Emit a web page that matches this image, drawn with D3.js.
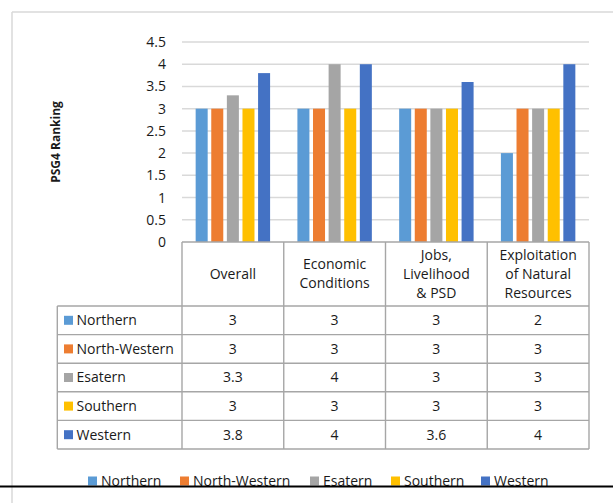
<!DOCTYPE html>
<html>
<head>
<meta charset="utf-8">
<script src="https://cdn.jsdelivr.net/npm/d3@7"></script>
<style>
  html, body { margin: 0; padding: 0; background: #fff; }
  svg { display: block; font-family: "Open Sans", sans-serif; }
</style>
</head>
<body>
<svg id="chart" width="613" height="503"></svg>
<script>
// Categories along the x axis (header lines split on "\n")
const categories = ["Overall", "Economic\nConditions", "Jobs,\nLivelihood\n& PSD", "Exploitation\nof Natural\nResources"];
// Regions (series)
const regions = ["Northern", "North-Western", "Esatern", "Southern", "Western"];
// PSG4 ranking per region, one value per category
const northern     = [3, 3, 3, 2];
const northWestern = [3, 3, 3, 3];
const esatern      = [3.3, 4, 3, 3];
const southern     = [3, 3, 3, 3];
const western      = [3.8, 4, 3.6, 4];
const seriesValues = [northern, northWestern, esatern, southern, western];
const yTicks = [0, 0.5, 1, 1.5, 2, 2.5, 3, 3.5, 4, 4.5];
const colors = ["#5B9BD5", "#ED7D31", "#A5A5A5", "#FFC000", "#4472C4"];

const svg = d3.select("#chart");
const fontSize = 14;
const textColor = "#1a1a1a";
const tableStroke = "#a6a6a6";

// Outer chart frame
svg.append("line").attr("x1", 12).attr("x2", 613).attr("y1", 12).attr("y2", 12)
  .attr("stroke", "#d9d9d9").attr("stroke-width", 1.5);
svg.append("line").attr("x1", 12).attr("x2", 12).attr("y1", 12).attr("y2", 503)
  .attr("stroke", "#d9d9d9").attr("stroke-width", 1.5);

const plotLeft = 182, plotRight = 589;
const y = d3.scaleLinear().domain([0, 4.5]).range([242, 42]);
const x = d3.scaleBand().domain(categories).range([plotLeft, plotRight]).padding(0);
const xs = d3.scaleBand().domain(regions).range([0, x.bandwidth()])
  .paddingInner(0.23).paddingOuter(0.875);

// Gridlines
svg.append("g").selectAll("line").data(yTicks.filter(d => d > 0)).join("line")
  .attr("x1", plotLeft).attr("x2", plotRight)
  .attr("y1", d => y(d)).attr("y2", d => y(d))
  .attr("stroke", "#d9d9d9").attr("stroke-width", 1.5);

// Y axis tick labels
const yAxis = d3.axisLeft(y).tickValues(yTicks).tickSize(0).tickPadding(0)
  .tickFormat(d => String(d));
svg.append("g").attr("transform", "translate(166,0)").call(yAxis)
  .call(g => g.select(".domain").remove())
  .call(g => g.selectAll("text").attr("font-size", fontSize).attr("fill", textColor)
    .attr("font-family", "'Open Sans', sans-serif"));

// Y axis title
svg.append("text")
  .attr("transform", "translate(60,142) rotate(-90)")
  .attr("text-anchor", "middle")
  .attr("font-size", 12).attr("font-weight", "bold").attr("fill", textColor)
  .text("PSG4 Ranking");

// Bars
const groups = svg.append("g").selectAll("g").data(categories).join("g")
  .attr("transform", d => `translate(${x(d)},0)`);
groups.selectAll("rect")
  .data((c, ci) => regions.map((r, ri) => ({ r, ri, v: seriesValues[ri][ci] })))
  .join("rect")
  .attr("x", d => xs(d.r))
  .attr("width", xs.bandwidth())
  .attr("y", d => y(d.v))
  .attr("height", d => y(0) - y(d.v))
  .attr("fill", d => colors[d.ri]);

// Data table
const headerTop = 242, headerBottom = 306;
const rowH = (449 - 306) / regions.length;
const labelLeft = 57.3;
const tbl = svg.append("g").attr("stroke", tableStroke).attr("stroke-width", 1.4);
tbl.append("line").attr("x1", plotLeft).attr("x2", plotRight).attr("y1", headerTop).attr("y2", headerTop);
const colEdges = categories.map(c => x(c)).concat([plotRight]);
tbl.selectAll(".col").data(colEdges).join("line")
  .attr("x1", d => d).attr("x2", d => d)
  .attr("y1", headerTop).attr("y2", headerBottom + rowH * regions.length);
tbl.append("line").attr("x1", labelLeft).attr("x2", labelLeft)
  .attr("y1", headerBottom).attr("y2", headerBottom + rowH * regions.length);
tbl.selectAll(".row").data(d3.range(regions.length + 1)).join("line")
  .attr("x1", labelLeft).attr("x2", plotRight)
  .attr("y1", i => headerBottom + i * rowH).attr("y2", i => headerBottom + i * rowH);

// Header text
const lineH = 19;
svg.append("g").selectAll("text").data(categories).join("text")
  .attr("text-anchor", "middle").attr("font-size", fontSize).attr("fill", textColor)
  .each(function (c) {
    const lines = c.split("\n");
    const cx = x(c) + x.bandwidth() / 2;
    const cy = (headerTop + headerBottom) / 2 - (lines.length - 1) * lineH / 2;
    d3.select(this).selectAll("tspan").data(lines).join("tspan")
      .attr("x", cx).attr("y", (d, i) => cy + i * lineH).attr("dy", "0.35em").text(d => d);
  });

// Row labels with swatches
const rows = svg.append("g").selectAll("g").data(regions).join("g")
  .attr("transform", (d, i) => `translate(0,${headerBottom + i * rowH + rowH / 2})`);
rows.append("rect").attr("x", 64).attr("y", -4.5).attr("width", 9).attr("height", 9)
  .attr("fill", (d, i) => colors[i]);
rows.append("text").attr("x", 76.5).attr("dy", "0.35em")
  .attr("font-size", fontSize).attr("fill", textColor).text(d => d);

// Values in cells
rows.each(function (r, ri) {
  d3.select(this).selectAll(".val").data(categories).join("text")
    .attr("x", c => x(c) + x.bandwidth() / 2).attr("dy", "0.35em")
    .attr("text-anchor", "middle").attr("font-size", fontSize).attr("fill", textColor)
    .text((c, ci) => seriesValues[ri][ci]);
});

// Bottom legend, cut off by the page rule below it
svg.append("clipPath").attr("id", "legendClip")
  .append("rect").attr("x", 0).attr("y", 0).attr("width", 613).attr("height", 486);
const legendX = [88, 180, 310, 391, 481];
const legend = svg.append("g").attr("clip-path", "url(#legendClip)")
  .selectAll("g").data(regions).join("g")
  .attr("transform", (d, i) => `translate(${legendX[i]},481)`);
legend.append("rect").attr("x", 0).attr("y", -4.5).attr("width", 9).attr("height", 9)
  .attr("fill", (d, i) => colors[i]);
legend.append("text").attr("x", 13).attr("dy", "0.35em")
  .attr("font-size", fontSize).attr("fill", textColor).text(d => d);

// Page rule
svg.append("line").attr("x1", 0).attr("x2", 613).attr("y1", 486.5).attr("y2", 486.5)
  .attr("stroke", "#000").attr("stroke-width", 2);
</script>
</body>
</html>
